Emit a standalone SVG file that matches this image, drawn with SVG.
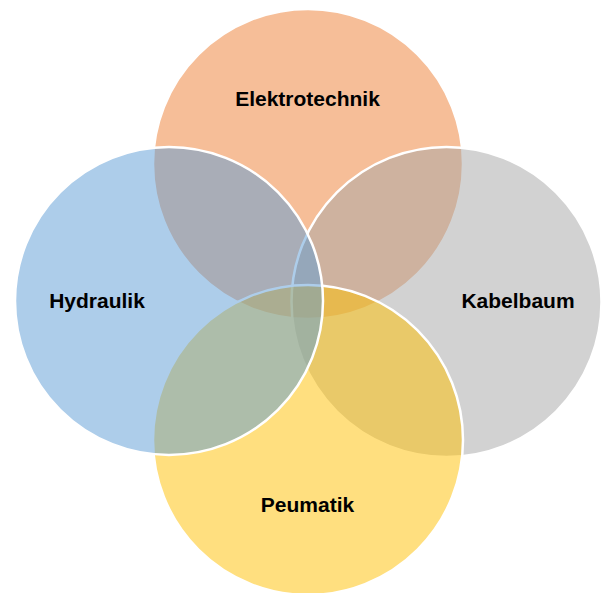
<svg xmlns="http://www.w3.org/2000/svg" width="603" height="593" viewBox="0 0 603 593">
<style>
.c{stroke:#ffffff;stroke-width:2.5}
.t{font-family:"Liberation Sans",Arial,sans-serif;font-weight:bold;font-size:21px;fill:#000000;text-anchor:middle}
</style>
<rect width="603" height="593" fill="#ffffff"/>
<g id="elektrotechnik">
<circle class="c" cx="308" cy="164" r="155" fill="#ED7D31" fill-opacity="0.5"/>
</g>
<g id="kabelbaum">
<circle class="c" cx="446.5" cy="302" r="155" fill="#A5A5A5" fill-opacity="0.5"/>
</g>
<g id="peumatik">
<circle class="c" cx="308" cy="440" r="155" fill="#FFC000" fill-opacity="0.5"/>
</g>
<g id="hydraulik">
<circle class="c" cx="169" cy="301" r="154" fill="#5B9BD5" fill-opacity="0.5"/>
</g>
<g id="labels">
<text class="t" x="307.5" y="106">Elektrotechnik</text>
<text class="t" x="97" y="308">Hydraulik</text>
<text class="t" x="518" y="308">Kabelbaum</text>
<text class="t" x="307.5" y="511.5">Peumatik</text>
</g>
</svg>
